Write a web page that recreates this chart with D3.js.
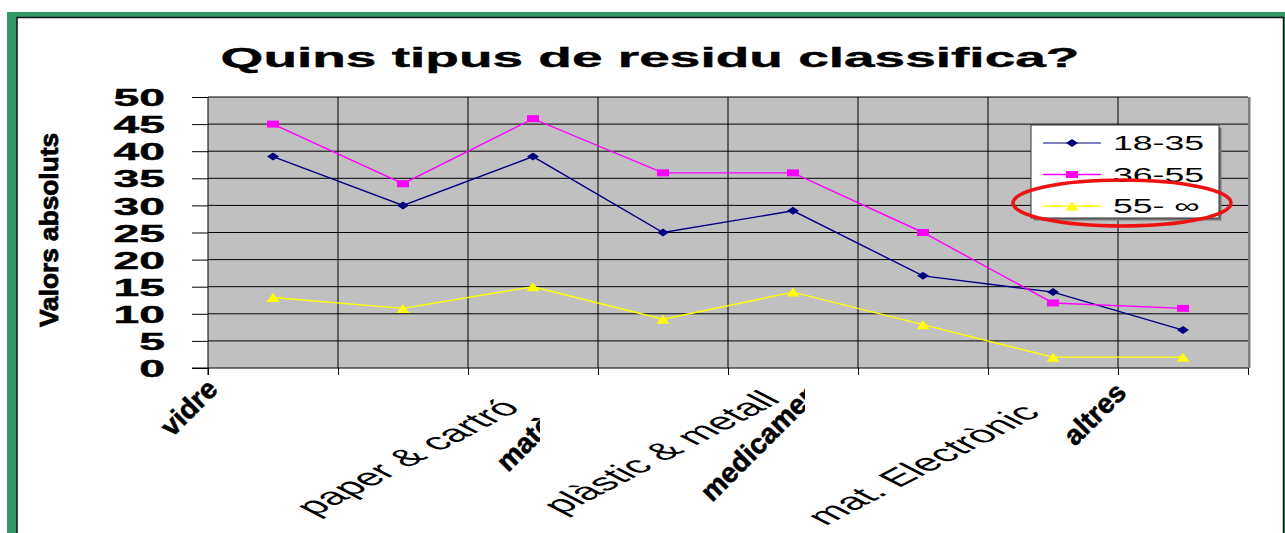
<!DOCTYPE html>
<html>
<head>
<meta charset="utf-8">
<script src="https://cdn.jsdelivr.net/npm/d3@7"></script>
<style>
  body { margin: 0; background: #fff; }
  svg { display: block; font-family: 'Liberation Sans', Arial, sans-serif; }
</style>
</head>
<body>
<div id="chart"></div>
<script>
const title = 'Quins tipus de residu classifica?';
const yTitle = 'Valors absoluts';
const categories = ['vidre', 'paper & cartró', 'matèria orgànica', 'plàstic & metall', 'medicaments', 'mat. Electrònic', 'altres', ''];
const xLabels = ['vidre', 'paper & cartró', 'matèria orgànica', 'plàstic & metall', 'medicaments', 'mat. Electrònic', 'altres'];
const yTicks = [0, 5, 10, 15, 20, 25, 30, 35, 40, 45, 50];
const seriesNames = ['18-35', '36-55', '55- ∞'];
const values18_35 = [39, 30, 39, 25, 29, 17, 14, 7];
const values36_55 = [45, 34, 46, 36, 36, 25, 12, 11];
const values55 = [13, 11, 15, 9, 14, 8, 2, 2];

const seriesValues = [values18_35, values36_55, values55];
const seriesColors = ['#000080', '#ff00ff', '#ffff00'];
const seriesMarkers = ['diamond', 'square', 'triangle'];

// the whole picture looks stretched sideways, text too
const SX = 1.93;
const width = 1285;
const height = 533;
const plot = { left: 208, right: 1248, top: 97, bottom: 368 };

const svg = d3.select('#chart').append('svg')
  .attr('width', width)
  .attr('height', height);

// green frame
svg.append('rect')
  .attr('x', 7).attr('y', 12)
  .attr('width', width - 7).attr('height', height)
  .attr('fill', '#339966');
svg.append('rect')
  .attr('x', 17).attr('y', 17.5)
  .attr('width', 1266.5).attr('height', height)
  .attr('fill', '#fff')
  .attr('stroke', '#111')
  .attr('stroke-width', 1.5);

svg.append('text')
  .attr('transform', `translate(650,67) scale(${SX},1)`)
  .attr('text-anchor', 'middle')
  .attr('font-size', 28.5)
  .attr('font-weight', 'bold')
  .attr('stroke', '#000')
  .attr('stroke-width', 0.4)
  .text(title);

const x = d3.scaleBand()
  .domain(d3.range(categories.length))
  .range([plot.left, plot.right]);
const xEdge = d3.scaleLinear()
  .domain([0, categories.length])
  .range([plot.left, plot.right]);
const y = d3.scaleLinear()
  .domain([0, 50])
  .range([plot.bottom, plot.top]);

svg.append('rect')
  .attr('x', plot.left).attr('y', plot.top)
  .attr('width', plot.right - plot.left).attr('height', plot.bottom - plot.top)
  .attr('fill', '#c0c0c0');
svg.append('rect')
  .attr('x', plot.right).attr('y', plot.top)
  .attr('width', 2.5).attr('height', plot.bottom - plot.top)
  .attr('fill', '#808080');

// grid
svg.append('g')
  .selectAll('line')
  .data(yTicks.slice(1))
  .join('line')
    .attr('x1', plot.left).attr('x2', plot.right)
    .attr('y1', d => y(d)).attr('y2', d => y(d))
    .attr('stroke', '#000');
svg.append('g')
  .selectAll('line')
  .data(d3.range(1, categories.length))
  .join('line')
    .attr('x1', d => xEdge(d)).attr('x2', d => xEdge(d))
    .attr('y1', plot.top).attr('y2', plot.bottom)
    .attr('stroke', '#000');

// y axis
svg.append('g')
  .attr('transform', `translate(${plot.left},0)`)
  .call(d3.axisLeft(y).tickValues(yTicks).tickSize(16).tickPadding(0))
  .call(g => g.select('.domain').remove())
  .call(g => g.selectAll('.tick line').attr('stroke', '#000'))
  .call(g => g.selectAll('.tick text')
    .attr('x', 0)
    .attr('dy', '0.36em')
    .attr('transform', `translate(-43,0) scale(${SX},1)`)
    .attr('font-family', 'Liberation Sans, Arial, sans-serif')
    .attr('font-size', 24)
    .attr('font-weight', 'bold')
    .attr('stroke', '#000')
    .attr('stroke-width', 0.4)
    .attr('fill', '#000'));

// x axis
svg.append('g')
  .attr('transform', `translate(0,${plot.bottom})`)
  .call(d3.axisBottom(xEdge).ticks(categories.length).tickSize(7).tickFormat(''))
  .call(g => g.select('.domain').remove())
  .call(g => g.selectAll('.tick line').attr('stroke', '#000'));

svg.append('line')
  .attr('x1', plot.left).attr('x2', plot.left)
  .attr('y1', plot.top).attr('y2', plot.bottom + 7)
  .attr('stroke', '#000');
svg.append('line')
  .attr('x1', plot.left - 16).attr('x2', plot.right)
  .attr('y1', plot.bottom).attr('y2', plot.bottom)
  .attr('stroke', '#000');

svg.append('text')
  .attr('transform', 'translate(58,230) rotate(-90)')
  .attr('text-anchor', 'middle')
  .attr('font-size', 26)
  .attr('font-weight', 'bold')
  .attr('textLength', 194)
  .attr('lengthAdjust', 'spacingAndGlyphs')
  .attr('stroke', '#000')
  .attr('stroke-width', 0.8)
  .text(yTitle);

// category labels, some of them clipped like in the original
const labelLayout = [
  { edge: 0, dx: -36, dy: 70, bold: true },
  { edge: 2, dx: 54, dy: 41 },
  { edge: 2, dx: 40, dy: 105, bold: true, clip: 72 },
  { edge: 4, dx: 54, dy: 33 },
  { edge: 4, dx: -16, dy: 135, bold: true, clip: 77 },
  { edge: 6, dx: 54, dy: 46 },
  { edge: 7, dx: -43, dy: 79, bold: true },
];

const defs = svg.append('defs');
labelLayout.forEach((l, i) => {
  const ax = xEdge(l.edge) + l.dx;
  const ay = plot.bottom + l.dy;
  if (l.clip) {
    defs.append('clipPath').attr('id', `clip${i}`)
      .append('rect')
      .attr('x', 0).attr('y', plot.bottom)
      .attr('width', xEdge(l.edge) + l.clip).attr('height', height);
  }
  const g = svg.append('g').attr('clip-path', l.clip ? `url(#clip${i})` : null);
  const t = g.append('text')
    .attr('transform', l.bold
      ? `translate(${ax},${ay}) rotate(-45)`
      : `translate(${ax},${ay}) scale(${SX},1) rotate(-45)`)
    .attr('text-anchor', l.bold ? 'start' : 'end')
    .attr('font-size', l.bold ? 28 : 24)
    .attr('font-weight', l.bold ? 'bold' : 'normal')
    .text(xLabels[i]);
  if (l.bold) t.attr('stroke', '#000').attr('stroke-width', 0.6);
});

const markerPath = (type, w, h) => {
  if (type === 'diamond') return `M${-w / 2},0L0,${-h / 2}L${w / 2},0L0,${h / 2}Z`;
  if (type === 'square') return `M${-w / 2},${-h / 2}h${w}v${h}h${-w}Z`;
  return `M0,${-h / 2}L${w / 2},${h / 2}L${-w / 2},${h / 2}Z`;
};
const markerSize = { diamond: [12, 8], square: [12, 7], triangle: [13, 9] };

const line = d3.line()
  .x((d, i) => x(i) + x.bandwidth() / 2)
  .y(d => y(d));

seriesValues.forEach((vals, s) => {
  svg.append('path')
    .attr('d', line(vals))
    .attr('fill', 'none')
    .attr('stroke', seriesColors[s])
    .attr('stroke-width', 1.4);
  const [w, h] = markerSize[seriesMarkers[s]];
  svg.append('g')
    .selectAll('path')
    .data(vals)
    .join('path')
      .attr('transform', (d, i) => `translate(${x(i) + x.bandwidth() / 2},${y(d)})`)
      .attr('d', markerPath(seriesMarkers[s], w, h))
      .attr('fill', seriesColors[s]);
});

// legend
const legend = svg.append('g').attr('transform', 'translate(1031,125)');
legend.append('rect')
  .attr('x', 2.5).attr('y', 2.5)
  .attr('width', 188).attr('height', 93)
  .attr('fill', '#777');
legend.append('rect')
  .attr('width', 188).attr('height', 93)
  .attr('fill', '#fff')
  .attr('stroke', '#333');
seriesNames.forEach((name, s) => {
  const row = legend.append('g').attr('transform', `translate(0,${18 + s * 31.5})`);
  row.append('line')
    .attr('x1', 12).attr('x2', 70)
    .attr('stroke', s === 0 ? '#5555a8' : seriesColors[s])
    .attr('stroke-width', 1.4);
  const [w, h] = markerSize[seriesMarkers[s]];
  row.append('path')
    .attr('transform', 'translate(41,0)')
    .attr('d', markerPath(seriesMarkers[s], w, h))
    .attr('fill', seriesColors[s]);
  row.append('text')
    .attr('transform', `translate(82,0) scale(${SX * 0.9},1)`)
    .attr('dy', '0.36em')
    .attr('font-size', 20.5)
    .text(name);
});

svg.append('ellipse')
  .attr('cx', 1122).attr('cy', 203)
  .attr('rx', 109).attr('ry', 23)
  .attr('fill', 'none')
  .attr('stroke', '#ee1111')
  .attr('stroke-width', 3.5);
</script>
</body>
</html>
